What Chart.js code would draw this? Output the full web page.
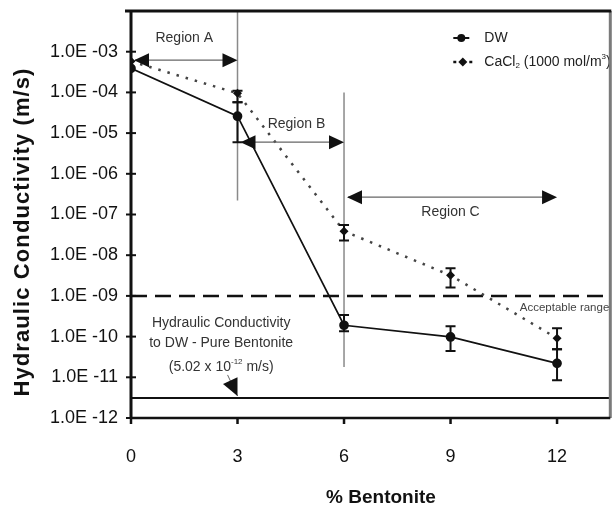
<!DOCTYPE html>
<html>
<head>
<meta charset="utf-8">
<script src="https://cdn.jsdelivr.net/npm/chart.js@4.4.0/dist/chart.umd.min.js"></script>
<style>
  body { margin: 0; background: #fff; }
  #wrap { width: 616px; height: 511px; }
</style>
</head>
<body>
<div id="wrap"><canvas id="hcChart"></canvas></div>
<script>
// % bentonite
const bentonite = [0, 3, 6, 9, 12];

// hydraulic conductivity (m/s)
const dwK      = [3.9e-4, 2.6e-5, 1.9e-10, 9.8e-11, 2.2e-11];
const dwLow    = [3.9e-4, 6.0e-6, 1.35e-10, 4.4e-11, 8.5e-12];
const dwHigh   = [3.9e-4, 5.7e-5, 3.4e-10, 1.8e-10, 4.9e-11];
const caclK    = [5.8e-4, 9.5e-5, 3.9e-8, 3.2e-9, 9.1e-11];
const caclLow  = [5.8e-4, 5.7e-5, 2.3e-8, 1.6e-9, 4.9e-11];
const caclHigh = [5.8e-4, 1.1e-4, 5.5e-8, 4.8e-9, 1.6e-10];

const acceptableK = 1e-9;
const pureBentoniteK = 3.1e-12; // where the line sits in the figure

const xTicks = [0, 3, 6, 9, 12];
const yTickValues = [1e-12, 1e-11, 1e-10, 1e-9, 1e-8, 1e-7, 1e-6, 1e-5, 1e-4, 1e-3];
const yTickLabels = ['1.0E -12', '1.0E -11', '1.0E -10', '1.0E -09', '1.0E -08',
                     '1.0E -07', '1.0E -06', '1.0E -05', '1.0E -04', '1.0E -03'];

const FONT = '"Liberation Sans", Arial, sans-serif';

function arrowHead(ctx, tx, ty, ang, len, half) {
  ctx.save();
  ctx.translate(tx, ty);
  ctx.rotate(ang);
  ctx.beginPath();
  ctx.moveTo(0, 0);
  ctx.lineTo(-len, -half);
  ctx.lineTo(-len, half);
  ctx.closePath();
  ctx.fillStyle = '#111';
  ctx.fill();
  ctx.restore();
}

function doubleArrow(ctx, x1, x2, yy) {
  ctx.save();
  ctx.strokeStyle = '#666';
  ctx.lineWidth = 1.2;
  ctx.beginPath();
  ctx.moveTo(x1 + 4, yy);
  ctx.lineTo(x2 - 4, yy);
  ctx.stroke();
  ctx.restore();
  arrowHead(ctx, x1 + 3, yy, Math.PI, 15, 7);
  arrowHead(ctx, x2, yy, 0, 15, 7);
}

function label(ctx, text, px, py, size, color, align) {
  ctx.save();
  ctx.font = size + 'px ' + FONT;
  ctx.fillStyle = color;
  ctx.textAlign = align || 'center';
  ctx.textBaseline = 'middle';
  ctx.fillText(text, px, py);
  ctx.restore();
}

// draws a run of [text, 'n'|'sup'|'sub'] pieces, centred or left aligned
function richText(ctx, pieces, px, py, size, color, align) {
  ctx.save();
  ctx.fillStyle = color;
  ctx.textBaseline = 'middle';
  ctx.textAlign = 'left';
  let total = 0;
  const small = Math.round(size * 0.6);
  pieces.forEach(p => {
    ctx.font = (p[1] === 'n' ? size : small) + 'px ' + FONT;
    total += ctx.measureText(p[0]).width;
  });
  let cx = align === 'left' ? px : px - total / 2;
  pieces.forEach(p => {
    const s = p[1] === 'n' ? size : small;
    ctx.font = s + 'px ' + FONT;
    let dy = 0;
    if (p[1] === 'sup') dy = -size * 0.38;
    if (p[1] === 'sub') dy = size * 0.3;
    ctx.fillText(p[0], cx, py + dy);
    cx += ctx.measureText(p[0]).width;
  });
  ctx.restore();
}

const extras = {
  id: 'extras',
  beforeDatasetsDraw(chart) {
    const { ctx, scales: { x, y } } = chart;
    // region boundaries
    ctx.save();
    ctx.strokeStyle = '#8a8a8a';
    ctx.lineWidth = 1.5;
    ctx.beginPath();
    ctx.moveTo(x.getPixelForValue(3), y.getPixelForValue(1e-2));
    ctx.lineTo(x.getPixelForValue(3), y.getPixelForValue(2.2e-7));
    ctx.moveTo(x.getPixelForValue(6), y.getPixelForValue(1e-4));
    ctx.lineTo(x.getPixelForValue(6), y.getPixelForValue(1.8e-11));
    ctx.stroke();
    ctx.restore();
  },
  afterDatasetsDraw(chart) {
    const { ctx, scales: { x, y }, chartArea: a } = chart;

    // error bars
    const bars = [[dwLow, dwHigh], [caclLow, caclHigh]];
    ctx.save();
    ctx.strokeStyle = '#111';
    ctx.lineWidth = 2;
    bars.forEach(([lo, hi]) => {
      bentonite.forEach((b, i) => {
        if (lo[i] === hi[i]) return;
        const px = x.getPixelForValue(b);
        const y1 = y.getPixelForValue(lo[i]);
        const y2 = y.getPixelForValue(hi[i]);
        ctx.beginPath();
        ctx.moveTo(px, y1); ctx.lineTo(px, y2);
        ctx.moveTo(px - 5, y1); ctx.lineTo(px + 5, y1);
        ctx.moveTo(px - 5, y2); ctx.lineTo(px + 5, y2);
        ctx.stroke();
      });
    });
    ctx.restore();

    // region arrows and labels
    const x0 = x.getPixelForValue(0), x3 = x.getPixelForValue(3);
    const x6 = x.getPixelForValue(6), x12 = x.getPixelForValue(12);
    doubleArrow(ctx, x0, x3, y.getPixelForValue(6.2e-4));
    label(ctx, 'Region A', x.getPixelForValue(1.5), y.getPixelForValue(2.1e-3), 14, '#333');
    doubleArrow(ctx, x3, x6, y.getPixelForValue(6e-6));
    label(ctx, 'Region B', x.getPixelForValue(4.66), y.getPixelForValue(1.66e-5), 14, '#333');
    doubleArrow(ctx, x6, x12, y.getPixelForValue(2.66e-7));
    label(ctx, 'Region C', x.getPixelForValue(9), y.getPixelForValue(1.15e-7), 14, '#333');

    label(ctx, 'Acceptable range', a.right - 1, y.getPixelForValue(5.2e-10), 11.5, '#444', 'right');

    // pure bentonite note
    const tx = x.getPixelForValue(2.54);
    label(ctx, 'Hydraulic Conductivity', tx, y.getPixelForValue(2.1e-10), 14, '#333');
    label(ctx, 'to DW - Pure Bentonite', tx, y.getPixelForValue(6.9e-11), 14, '#333');
    richText(ctx, [['(5.02 x 10', 'n'], ['-12', 'sup'], [' m/s)', 'n']],
      tx, y.getPixelForValue(1.8e-11), 14, '#333');
    const tipX = x3, tipY = y.getPixelForValue(pureBentoniteK) - 2;
    const tailX = x.getPixelForValue(2.72), tailY = y.getPixelForValue(1.8e-11) + 8;
    ctx.save();
    ctx.strokeStyle = '#666';
    ctx.lineWidth = 1;
    ctx.beginPath();
    ctx.moveTo(tailX, tailY); ctx.lineTo(tipX, tipY);
    ctx.stroke();
    ctx.restore();
    arrowHead(ctx, tipX, tipY, Math.atan2(tipY - tailY, tipX - tailX), 17, 8);

    // legend
    const lx = a.right - 157, ly1 = 38, ly2 = 62;
    ctx.save();
    ctx.strokeStyle = '#111';
    ctx.lineWidth = 2;
    ctx.beginPath(); ctx.moveTo(lx, ly1); ctx.lineTo(lx + 16, ly1); ctx.stroke();
    ctx.fillStyle = '#111';
    ctx.beginPath(); ctx.arc(lx + 8, ly1, 4, 0, Math.PI * 2); ctx.fill();
    ctx.lineWidth = 2.5;
    ctx.beginPath();
    ctx.moveTo(lx, ly2); ctx.lineTo(lx + 3, ly2);
    ctx.moveTo(lx + 16, ly2); ctx.lineTo(lx + 19, ly2);
    ctx.stroke();
    ctx.beginPath();
    ctx.moveTo(lx + 9.5, ly2 - 4.5); ctx.lineTo(lx + 14, ly2);
    ctx.lineTo(lx + 9.5, ly2 + 4.5); ctx.lineTo(lx + 5, ly2);
    ctx.closePath(); ctx.fill();
    ctx.restore();
    label(ctx, 'DW', lx + 31, ly1, 14, '#222', 'left');
    richText(ctx, [['CaCl', 'n'], ['2', 'sub'], [' (1000 mol/m', 'n'], ['3', 'sup'], [')', 'n']],
      lx + 31, ly2, 14, '#222', 'left');

    // axis titles
    ctx.save();
    ctx.fillStyle = '#111';
    ctx.textAlign = 'center';
    ctx.textBaseline = 'middle';
    ctx.font = 'bold 19px ' + FONT;
    ctx.fillText('% Bentonite', 381, 498);
    ctx.translate(23, 232);
    ctx.rotate(-Math.PI / 2);
    ctx.font = 'bold 22px ' + FONT;
    ctx.letterSpacing = '1.1px';
    ctx.fillText('Hydraulic Conductivity (m/s)', 0, 0);
    ctx.restore();
  },
  afterDraw(chart) {
    const { ctx, scales: { x, y }, chartArea: a } = chart;
    ctx.save();
    // frame
    ctx.strokeStyle = '#7a7a7a';
    ctx.lineWidth = 3;
    ctx.beginPath(); ctx.moveTo(a.right, a.top); ctx.lineTo(a.right, a.bottom); ctx.stroke();
    ctx.strokeStyle = '#111';
    ctx.beginPath(); ctx.moveTo(a.left - 6, a.top); ctx.lineTo(a.right + 1, a.top); ctx.stroke();
    ctx.lineWidth = 3;
    ctx.beginPath(); ctx.moveTo(a.left, a.top); ctx.lineTo(a.left, a.bottom + 1); ctx.stroke();
    ctx.lineWidth = 2.5;
    ctx.beginPath(); ctx.moveTo(a.left, a.bottom); ctx.lineTo(a.right, a.bottom); ctx.stroke();
    // tick marks
    ctx.lineWidth = 2;
    yTickValues.forEach(v => {
      const py = y.getPixelForValue(v);
      ctx.beginPath(); ctx.moveTo(a.left - 5, py); ctx.lineTo(a.left + 5, py); ctx.stroke();
    });
    ctx.lineWidth = 2.5;
    xTicks.forEach(v => {
      const px = x.getPixelForValue(v);
      ctx.beginPath(); ctx.moveTo(px, a.bottom); ctx.lineTo(px, a.bottom + 6); ctx.stroke();
    });
    ctx.restore();
  }
};

const ctx = document.getElementById('hcChart').getContext('2d');
new Chart(ctx, {
  type: 'line',
  data: {
    datasets: [
      {
        label: 'DW',
        data: bentonite.map((b, i) => ({ x: b, y: dwK[i] })),
        borderColor: '#111',
        backgroundColor: '#111',
        borderWidth: 1.7,
        pointRadius: 4,
        pointStyle: 'circle',
      },
      {
        label: 'CaCl2 (1000 mol/m3)',
        data: bentonite.map((b, i) => ({ x: b, y: caclK[i] })),
        borderColor: '#444',
        backgroundColor: '#111',
        borderWidth: 2.5,
        borderDash: [2.5, 7],
        pointRadius: 4.5,
        pointStyle: 'rectRot',
        pointBorderWidth: 0,
      },
      {
        label: 'Acceptable range',
        data: [{ x: 0, y: acceptableK }, { x: 13.5, y: acceptableK }],
        borderColor: '#111',
        borderWidth: 2.5,
        borderDash: [16, 8],
        pointRadius: 0,
      },
      {
        label: 'Pure bentonite',
        data: [{ x: 0, y: pureBentoniteK }, { x: 13.5, y: pureBentoniteK }],
        borderColor: '#111',
        borderWidth: 2,
        pointRadius: 0,
      },
    ],
  },
  options: {
    responsive: true,
    maintainAspectRatio: false,
    animation: false,
    layout: { padding: { top: 11, right: 4, left: 0, bottom: 0 } },
    plugins: {
      legend: { display: false },
      tooltip: { enabled: false },
    },
    scales: {
      x: {
        type: 'linear',
        min: 0,
        max: 13.5,
        afterBuildTicks: s => { s.ticks = xTicks.map(v => ({ value: v })); },
        afterFit: s => { s.height = 93; s.paddingLeft = 0; s.paddingRight = 0; },
        grid: { display: false, drawTicks: false },
        border: { display: false },
        ticks: { padding: 28, color: '#111', font: { family: FONT, size: 18 } },
      },
      y: {
        type: 'logarithmic',
        min: 1e-12,
        max: 1e-2,
        afterBuildTicks: s => { s.ticks = yTickValues.map(v => ({ value: v })); },
        afterFit: s => { s.width = 131; s.paddingTop = 0; s.paddingBottom = 0; },
        grid: { display: false, drawTicks: false },
        border: { display: false },
        ticks: {
          padding: 13,
          color: '#111',
          font: { family: FONT, size: 18 },
          callback: (v, i) => yTickLabels[i],
        },
      },
    },
  },
  plugins: [extras],
});
</script>
</body>
</html>
